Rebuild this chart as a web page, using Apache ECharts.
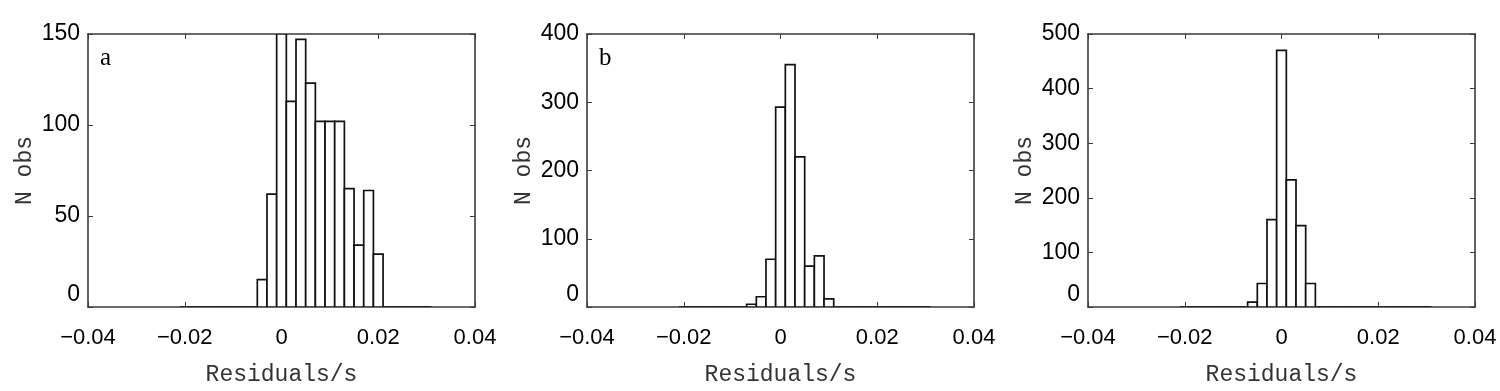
<!DOCTYPE html>
<html>
<head>
<meta charset="utf-8">
<script src="https://cdn.jsdelivr.net/npm/echarts@6/dist/echarts.min.js"></script>
<style>html,body{margin:0;padding:0;background:#fff}#c{width:1500px;height:391px}</style>
</head>
<body>
<div id="c"></div>
<script>
// Histogram bin centres (bin width 0.002)
const binCenters = [-0.020,-0.018,-0.016,-0.014,-0.012,-0.010,-0.008,-0.006,-0.004,-0.002,
  0.000,0.002,0.004,0.006,0.008,0.010,0.012,0.014,0.016,0.018,0.020,0.022,0.024,0.026,0.028,0.030];
const binWidth = 0.002;
const countsA = [0,0,0,0,0,0,0,0,15,62,150,113,147,123,102,102,102,65,34,64,29,0,0,0,0,0];
const countsB = [0,0,0,0,0,0,0,4,15,70,293,355,220,60,75,12,0,0,0,0,0,0,0,0,0,0];
const countsC = [0,0,0,0,0,0,0,9,43,160,470,233,149,43,0,0,0,0,0,0,0,0,0,0,0,0];
const xTicks = [-0.04,-0.02,0,0.02,0.04];
const yMaxes = [150,400,500];
const yIntervals = [50,100,100];
const panelLabels = ['a','b',''];
const xName = 'Residuals/s';
const yName = 'N obs';

const panels = [countsA, countsB, countsC];
const lefts = [88, 587, 1088];
const gridW = 387, gridTop = 34, gridH = 274;
const axisColor = '#3a3a3a';

const grids = [], xAxes = [], yAxes = [], series = [], graphics = [];
panels.forEach((counts, i) => {
  grids.push({left: lefts[i], top: gridTop, width: gridW, height: gridH});
  const xBase = {
    gridIndex: i, type: 'value', min: xTicks[0], max: xTicks[xTicks.length-1], interval: 0.02,
    axisLine: {show: true, onZero: false, lineStyle: {color: axisColor, width: 1.6}},
    axisTick: {show: true, inside: true, length: 5, lineStyle: {color: axisColor}},
    splitLine: {show: false}
  };
  xAxes.push(Object.assign({}, xBase, {
    position: 'bottom',
    name: xName, nameLocation: 'middle', nameGap: 56,
    nameTextStyle: {fontFamily: 'Liberation Mono', fontSize: 23, color: '#333'},
    axisLabel: {margin: 20, fontFamily: 'Liberation Sans', fontSize: 22, color: '#000',
      formatter: v => (Math.abs(v) < 1e-9 ? '0' : (v < 0 ? '\u2212' + Math.abs(v).toFixed(2) : v.toFixed(2)))}
  }));
  xAxes.push(Object.assign({}, xBase, {position: 'top', axisLabel: {show: false}}));
  const yBase = {
    gridIndex: i, type: 'value', min: 0, max: yMaxes[i], interval: yIntervals[i],
    axisLine: {show: true, onZero: false, lineStyle: {color: axisColor, width: 1.6}},
    axisTick: {show: true, inside: true, length: 5, lineStyle: {color: axisColor}},
    splitLine: {show: false}
  };
  yAxes.push(Object.assign({}, yBase, {
    position: 'left',
    name: yName, nameLocation: 'middle', nameGap: 52, nameRotate: 90,
    nameTextStyle: {fontFamily: 'Liberation Mono', fontSize: 23, color: '#333'},
    axisLabel: {margin: 8, fontFamily: 'Liberation Sans', fontSize: 23, color: '#000',
      formatter: v => (v === 0 ? '{z|0}' : String(v)),
      rich: {z: {fontFamily: 'Liberation Sans', fontSize: 23, color: '#000', padding: [0, 0, 24, 0]}}}
  }));
  yAxes.push(Object.assign({}, yBase, {position: 'right', axisLabel: {show: false}}));
  series.push({
    type: 'custom', xAxisIndex: i * 2, yAxisIndex: i * 2, clip: true,
    data: binCenters.map((c, k) => [c, counts[k]]),
    renderItem: function (params, api) {
      const c = api.value(0), n = api.value(1);
      const p0 = api.coord([c - binWidth / 2, n]);
      const p1 = api.coord([c + binWidth / 2, 0]);
      return {type: 'rect',
        shape: {x: p0[0], y: p0[1], width: p1[0] - p0[0], height: p1[1] - p0[1]},
        style: {fill: '#fff', stroke: '#111', lineWidth: 1.7}};
    }
  });
  if (panelLabels[i]) {
    graphics.push({type: 'text', left: lefts[i] + 12, top: 46,
      style: {text: panelLabels[i], fontFamily: 'Liberation Serif', fontSize: 25, fill: '#000'}});
  }
});

const chart = echarts.init(document.getElementById('c'));
chart.setOption({
  animation: false,
  grid: grids, xAxis: xAxes, yAxis: yAxes, series: series, graphic: graphics
});
</script>
</body>
</html>
